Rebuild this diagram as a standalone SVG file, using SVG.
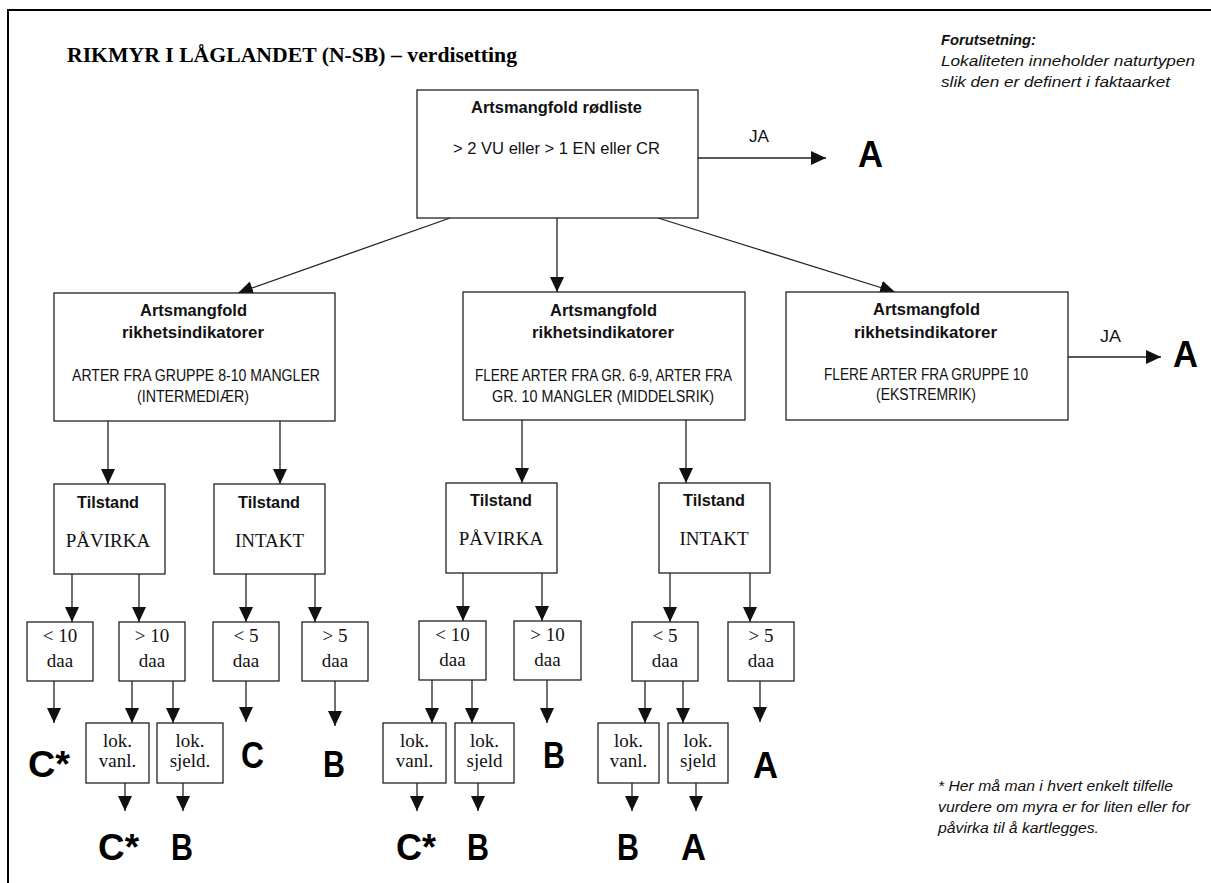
<svg xmlns="http://www.w3.org/2000/svg" width="1211" height="883" viewBox="0 0 1211 883">
<defs>
<marker id="ah" markerUnits="userSpaceOnUse" markerWidth="15" markerHeight="14" refX="15" refY="7" orient="auto">
<path d="M0,0 L15,7 L0,14 z" fill="#111"/>
</marker>
<style>
.box{fill:#fff;stroke:#222;stroke-width:1.3}
.c{font-family:"Liberation Sans",Arial,sans-serif;font-size:16px;fill:#111}
.b{font-weight:bold}
.i{font-style:italic;font-size:15.5px}
.t{font-family:"Liberation Serif","Times New Roman",serif;font-size:19px;fill:#111;text-anchor:middle}
.big{font-family:"Liberation Sans",Arial,sans-serif;font-weight:bold;font-size:36px;fill:#000}
.conn line{stroke:#222;stroke-width:1.3;marker-end:url(#ah)}
</style>
</defs>
<rect width="1211" height="883" fill="#fff"/>
<path d="M8,883 V10 H1211" fill="none" stroke="#000" stroke-width="2"/>
<text x="67" y="62" font-family="Liberation Serif,'Times New Roman',serif" font-weight="bold" font-size="22" textLength="450" lengthAdjust="spacingAndGlyphs" fill="#000">RIKMYR I LÅGLANDET (N-SB) – verdisetting</text>
<g id="note">
<text class="c b i" x="941" y="45" textLength="95" lengthAdjust="spacingAndGlyphs">Forutsetning:</text>
<text class="c i" x="941" y="66" textLength="254" lengthAdjust="spacingAndGlyphs">Lokaliteten inneholder naturtypen</text>
<text class="c i" x="941" y="87" textLength="229" lengthAdjust="spacingAndGlyphs">slik den er definert i faktaarket</text>
</g>
<g id="footnote">
<text class="c i" x="938" y="791" textLength="235" lengthAdjust="spacingAndGlyphs">* Her må man i hvert enkelt tilfelle</text>
<text class="c i" x="938" y="812" textLength="252" lengthAdjust="spacingAndGlyphs">vurdere om myra er for liten eller for</text>
<text class="c i" x="938" y="833" textLength="161" lengthAdjust="spacingAndGlyphs">påvirka til å kartlegges.</text>
</g>
<g id="connectors" class="conn">
<line x1="450" y1="218" x2="238" y2="293"/>
<line x1="557" y1="218" x2="557" y2="292"/>
<line x1="658" y1="218" x2="895" y2="292"/>
<line x1="698" y1="158" x2="826" y2="158"/>
<line x1="1068" y1="357" x2="1161" y2="357"/>
<line x1="108" y1="421" x2="108" y2="484"/>
<line x1="280" y1="421" x2="280" y2="484"/>
<line x1="522" y1="420" x2="522" y2="483"/>
<line x1="686" y1="420" x2="686" y2="483"/>
<line x1="72" y1="574" x2="72" y2="622"/>
<line x1="139" y1="574" x2="139" y2="622"/>
<line x1="246" y1="574" x2="246" y2="622"/>
<line x1="315" y1="574" x2="315" y2="622"/>
<line x1="463" y1="573" x2="463" y2="621"/>
<line x1="542" y1="573" x2="542" y2="621"/>
<line x1="670" y1="573" x2="670" y2="622"/>
<line x1="750" y1="573" x2="750" y2="622"/>
<line x1="54" y1="681" x2="54" y2="723"/>
<line x1="132" y1="681" x2="132" y2="723"/>
<line x1="173" y1="681" x2="173" y2="723"/>
<line x1="246" y1="681" x2="246" y2="722"/>
<line x1="335" y1="681" x2="335" y2="726"/>
<line x1="432" y1="680" x2="432" y2="723"/>
<line x1="472" y1="680" x2="472" y2="723"/>
<line x1="547" y1="680" x2="547" y2="723"/>
<line x1="645" y1="681" x2="645" y2="723"/>
<line x1="683" y1="681" x2="683" y2="723"/>
<line x1="760" y1="681" x2="760" y2="722"/>
<line x1="125" y1="783" x2="125" y2="811"/>
<line x1="183" y1="783" x2="183" y2="811"/>
<line x1="417" y1="783" x2="417" y2="811"/>
<line x1="478" y1="783" x2="478" y2="811"/>
<line x1="632" y1="783" x2="632" y2="811"/>
<line x1="696" y1="783" x2="696" y2="811"/>
</g>
<g id="rodliste">
<rect class="box" x="417" y="90" width="281" height="128"/>
<text class="c b" x="471" y="113" textLength="171" lengthAdjust="spacingAndGlyphs">Artsmangfold rødliste</text>
<text class="c" x="453" y="154" textLength="207" lengthAdjust="spacingAndGlyphs">&gt; 2 VU eller &gt; 1 EN eller CR</text>
</g>
<g id="ja1">
<text class="c" x="749" y="142" font-size="19" textLength="20" lengthAdjust="spacingAndGlyphs">JA</text>
<text class="big" x="858" y="167" textLength="25" lengthAdjust="spacingAndGlyphs">A</text>
</g>
<g id="rik-intermediaer">
<rect class="box" x="54" y="293" width="281" height="128"/>
<text class="c b" x="140" y="316" textLength="107" lengthAdjust="spacingAndGlyphs">Artsmangfold</text>
<text class="c b" x="122" y="338" textLength="142" lengthAdjust="spacingAndGlyphs">rikhetsindikatorer</text>
<text class="c" x="72" y="381" textLength="248" lengthAdjust="spacingAndGlyphs">ARTER FRA GRUPPE 8-10 MANGLER</text>
<text class="c" x="137" y="402" textLength="112" lengthAdjust="spacingAndGlyphs">(INTERMEDIÆR)</text>
</g>
<g id="rik-middelsrik">
<rect class="box" x="463" y="292" width="282" height="128"/>
<text class="c b" x="550" y="316" textLength="107" lengthAdjust="spacingAndGlyphs">Artsmangfold</text>
<text class="c b" x="532" y="338" textLength="142" lengthAdjust="spacingAndGlyphs">rikhetsindikatorer</text>
<text class="c" x="475" y="381" textLength="257" lengthAdjust="spacingAndGlyphs">FLERE ARTER FRA GR. 6-9, ARTER FRA</text>
<text class="c" x="492" y="402" textLength="222" lengthAdjust="spacingAndGlyphs">GR. 10 MANGLER (MIDDELSRIK)</text>
</g>
<g id="rik-ekstremrik">
<rect class="box" x="786" y="292" width="282" height="128"/>
<text class="c b" x="873" y="315" textLength="107" lengthAdjust="spacingAndGlyphs">Artsmangfold</text>
<text class="c b" x="854" y="338" textLength="143" lengthAdjust="spacingAndGlyphs">rikhetsindikatorer</text>
<text class="c" x="824" y="380" textLength="204" lengthAdjust="spacingAndGlyphs">FLERE ARTER FRA GRUPPE 10</text>
<text class="c" x="876" y="400" textLength="100" lengthAdjust="spacingAndGlyphs">(EKSTREMRIK)</text>
</g>
<g id="ja2">
<text class="c" x="1100" y="342" font-size="19" textLength="21" lengthAdjust="spacingAndGlyphs">JA</text>
<text class="big" x="1173" y="367" textLength="25" lengthAdjust="spacingAndGlyphs">A</text>
</g>
<g id="tilstand-l1">
<rect class="box" x="54" y="484" width="111" height="90"/>
<text class="c b" x="77" y="508" textLength="62" lengthAdjust="spacingAndGlyphs">Tilstand</text>
<text class="t" x="108" y="547">PÅVIRKA</text>
</g>
<g id="tilstand-l2">
<rect class="box" x="214" y="484" width="111" height="90"/>
<text class="c b" x="238" y="508" textLength="62" lengthAdjust="spacingAndGlyphs">Tilstand</text>
<text class="t" x="269.5" y="547">INTAKT</text>
</g>
<g id="tilstand-m1">
<rect class="box" x="446" y="483" width="111" height="90"/>
<text class="c b" x="470" y="506" textLength="62" lengthAdjust="spacingAndGlyphs">Tilstand</text>
<text class="t" x="501" y="545">PÅVIRKA</text>
</g>
<g id="tilstand-m2">
<rect class="box" x="659" y="483" width="111" height="90"/>
<text class="c b" x="683" y="506" textLength="62" lengthAdjust="spacingAndGlyphs">Tilstand</text>
<text class="t" x="714" y="545">INTAKT</text>
</g>
<g id="daa-l1"><rect class="box" x="27" y="622" width="66" height="59"/><text class="t" x="60" y="642">&lt; 10</text><text class="t" x="60" y="667">daa</text></g>
<g id="daa-l2"><rect class="box" x="119" y="622" width="66" height="59"/><text class="t" x="152" y="642">&gt; 10</text><text class="t" x="152" y="667">daa</text></g>
<g id="daa-l3"><rect class="box" x="213" y="622" width="66" height="59"/><text class="t" x="246" y="642">&lt; 5</text><text class="t" x="246" y="667">daa</text></g>
<g id="daa-l4"><rect class="box" x="302" y="622" width="66" height="59"/><text class="t" x="335" y="642">&gt; 5</text><text class="t" x="335" y="667">daa</text></g>
<g id="daa-m1"><rect class="box" x="419" y="621" width="67" height="59"/><text class="t" x="452.5" y="641">&lt; 10</text><text class="t" x="452.5" y="666">daa</text></g>
<g id="daa-m2"><rect class="box" x="514" y="621" width="67" height="59"/><text class="t" x="547.5" y="641">&gt; 10</text><text class="t" x="547.5" y="666">daa</text></g>
<g id="daa-m3"><rect class="box" x="632" y="622" width="66" height="59"/><text class="t" x="665" y="642">&lt; 5</text><text class="t" x="665" y="667">daa</text></g>
<g id="daa-m4"><rect class="box" x="728" y="622" width="66" height="59"/><text class="t" x="761" y="642">&gt; 5</text><text class="t" x="761" y="667">daa</text></g>
<g id="lok-l1"><rect class="box" x="86" y="723" width="63" height="60"/><text class="t" x="117.5" y="747">lok.</text><text class="t" x="117.5" y="767">vanl.</text></g>
<g id="lok-l2"><rect class="box" x="157" y="723" width="66" height="60"/><text class="t" x="190" y="747">lok.</text><text class="t" x="190" y="767">sjeld.</text></g>
<g id="lok-m1"><rect class="box" x="383" y="723" width="63" height="60"/><text class="t" x="414.5" y="747">lok.</text><text class="t" x="414.5" y="767">vanl.</text></g>
<g id="lok-m2"><rect class="box" x="455" y="723" width="59" height="60"/><text class="t" x="484.5" y="747">lok.</text><text class="t" x="484.5" y="767">sjeld</text></g>
<g id="lok-m3"><rect class="box" x="598" y="723" width="61" height="60"/><text class="t" x="628.5" y="747">lok.</text><text class="t" x="628.5" y="767">vanl.</text></g>
<g id="lok-m4"><rect class="box" x="668" y="723" width="60" height="60"/><text class="t" x="698" y="747">lok.</text><text class="t" x="698" y="767">sjeld</text></g>
<g id="results">
<text class="big" x="28" y="777" textLength="42" lengthAdjust="spacingAndGlyphs">C*</text>
<text class="big" x="98" y="860" textLength="41" lengthAdjust="spacingAndGlyphs">C*</text>
<text class="big" x="171" y="860" textLength="22" lengthAdjust="spacingAndGlyphs">B</text>
<text class="big" x="241" y="768" textLength="23" lengthAdjust="spacingAndGlyphs">C</text>
<text class="big" x="323" y="777" textLength="22" lengthAdjust="spacingAndGlyphs">B</text>
<text class="big" x="396" y="860" textLength="40" lengthAdjust="spacingAndGlyphs">C*</text>
<text class="big" x="467" y="860" textLength="22" lengthAdjust="spacingAndGlyphs">B</text>
<text class="big" x="543" y="768" textLength="22" lengthAdjust="spacingAndGlyphs">B</text>
<text class="big" x="617" y="860" textLength="22" lengthAdjust="spacingAndGlyphs">B</text>
<text class="big" x="681" y="860" textLength="25" lengthAdjust="spacingAndGlyphs">A</text>
<text class="big" x="753" y="778" textLength="25" lengthAdjust="spacingAndGlyphs">A</text>
</g>
</svg>
